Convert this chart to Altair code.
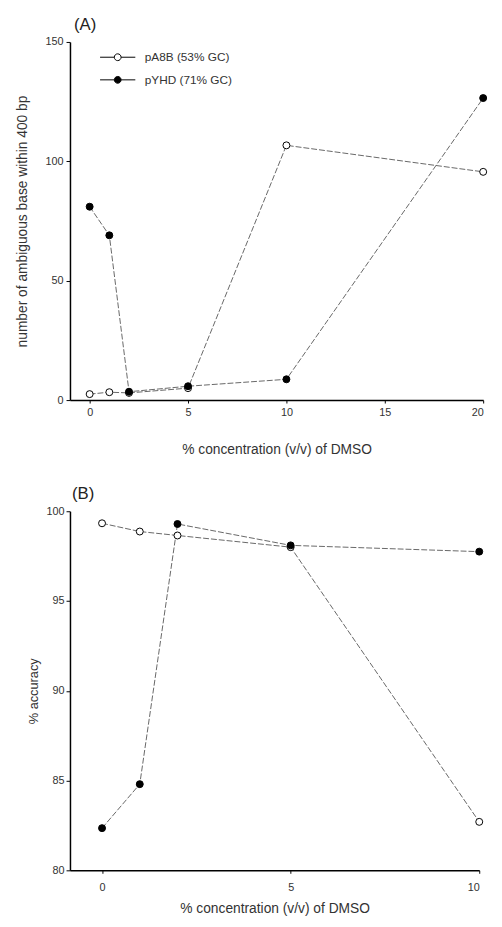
import altair as alt
import pandas as pd

series = ["pA8B (53% GC)", "pYHD (71% GC)"]

# Panel A
xa = [0, 1, 2, 5, 10, 20]
ya_open = [2.5, 3.3, 3.0, 5.0, 106.7, 95.6]
ya_fill = [81, 69, 3.5, 5.8, 8.7, 126.5]

# Panel B
xb = [0, 1, 2, 5, 10]
yb_open = [99.33, 98.87, 98.65, 98.0, 82.7]
yb_fill = [82.35, 84.8, 99.29, 98.1, 97.75]

xa_ticks = [0, 5, 10, 15, 20]
ya_ticks = [0, 50, 100, 150]
xb_ticks = [0, 5, 10]
yb_ticks = [80, 85, 90, 95, 100]

dfa = pd.DataFrame({
    "x": xa + xa,
    "y": ya_open + ya_fill,
    "s": [series[0]] * len(xa) + [series[1]] * len(xa),
})
dfb = pd.DataFrame({
    "x": xb + xb,
    "y": yb_open + yb_fill,
    "s": [series[0]] * len(xb) + [series[1]] * len(xb),
})

FONT = "Liberation Sans"
sym = "M -2.6 0 L -0.5 0 M 0.5 0 L 2.6 0 M -0.5 0 A 0.5 0.5 0 1 0 0.5 0 A 0.5 0.5 0 1 0 -0.5 0 Z"


def panel(df, xdom, ydom, xt, yt, ytitle, label, w, h, legend, ytp, ylp, xlp, xtp, tsize, lx):
    xenc = alt.X("x:Q", scale=alt.Scale(domain=xdom, nice=False, zero=False),
                 axis=alt.Axis(values=xt, title="% concentration (v/v) of DMSO", grid=False,
                               tickSize=3, labelPadding=xlp, titlePadding=xtp,
                               titleFontSize=14, titleFontWeight="normal"))
    yenc = alt.Y("y:Q", scale=alt.Scale(domain=ydom, nice=False, zero=False),
                 axis=alt.Axis(values=yt, title=ytitle, grid=False, tickSize=4,
                               labelPadding=ylp, titlePadding=ytp,
                               titleFontSize=tsize, titleFontWeight="normal"))
    lines = alt.Chart(df).mark_line(color="#666", strokeWidth=1, strokeDash=[6, 2]).encode(
        x=xenc, y=yenc, detail="s:N")
    if legend:
        leg = alt.Legend(title=None, orient="none", legendX=41, legendY=8,
                         symbolType=sym, symbolSize=190, symbolStrokeColor="black",
                         symbolStrokeWidth=1, labelFontSize=12, labelFont=FONT,
                         labelColor="#333", rowPadding=9, labelOffset=20)
    else:
        leg = None
    pts = alt.Chart(df).mark_point(filled=True, size=50, stroke="black", strokeWidth=1,
                                   opacity=1, shape="circle").encode(
        x="x:Q", y="y:Q",
        fill=alt.Fill("s:N", scale=alt.Scale(domain=series, range=["white", "black"]),
                      legend=leg))
    lab = alt.Chart(pd.DataFrame({"t": [label]})).mark_text(
        fontSize=17, font=FONT, color="#222", align="left", baseline="middle").encode(
        x=alt.value(lx), y=alt.value(-17), text="t:N")
    return alt.layer(lines, pts, lab).properties(width=w, height=h)


a = panel(dfa, [-1, 20], [0, 150], xa_ticks, ya_ticks,
          "number of ambiguous base within 400 bp", "(A)", 420, 364, True, 16, 3, 4, 25, 14, 4)
b = panel(dfb, [-0.85, 10], [80, 100], xb_ticks, yb_ticks,
          "% accuracy", "(B)", 416, 365, False, 6, 2, 8, 10, 13, 2)

chart = alt.vconcat(a, b, spacing=30).resolve_scale(fill="independent").configure_view(
    stroke=None).configure_axis(
    domainColor="black", domainWidth=1.5, tickColor="black", labelFont=FONT,
    titleFont=FONT, labelFontSize=11, labelColor="#333", titleColor="#333"
).properties(padding={"left": 7, "top": 1, "right": 5, "bottom": 0})

chart.save("out.html", embed_options={"renderer": "svg", "actions": False})
